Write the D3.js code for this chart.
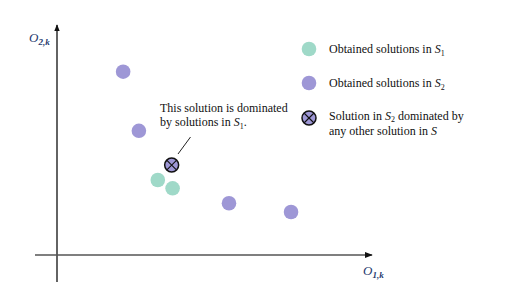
<!DOCTYPE html>
<html>
<head>
<meta charset="utf-8">
<script src="https://cdn.jsdelivr.net/npm/d3@7"></script>
<style>
  body { margin: 0; background: #fff; }
  text { font-family: "Liberation Serif", "Times New Roman", serif; fill: #111; }
</style>
</head>
<body>
<div id="container"></div>
<script>
const WIDTH = 514;
const HEIGHT = 305;

// Data (arbitrary objective units)
const s1X = [3.20, 3.67];
const s1Y = [3.26, 2.90];
const s2X = [2.10, 2.60, 5.46, 7.43];
const s2Y = [7.97, 5.40, 2.25, 1.87];
const dominatedX = [3.64];
const dominatedY = [3.91];
const legendLabels = ['Obtained solutions in ', 'Obtained solutions in ', 'Solution in '];

const GREEN = '#9fd9c8';
const PURPLE = '#9e97d6';
const R = 7.3;

const svg = d3.select('#container').append('svg')
    .attr('width', WIDTH)
    .attr('height', HEIGHT);

const x = d3.scaleLinear().domain([0, 10]).range([57, 372]);
const y = d3.scaleLinear().domain([0, 10]).range([255, 25]);

// Arrow marker
svg.append('defs').append('marker')
    .attr('id', 'arrow')
    .attr('viewBox', '0 0 10 10')
    .attr('refX', 9).attr('refY', 5)
    .attr('markerWidth', 5).attr('markerHeight', 5)
    .attr('orient', 'auto')
    .append('path').attr('d', 'M0,1 L10,5 L0,9 Z').attr('fill', '#111');

// Axes
svg.append('line')
    .attr('x1', x(0)).attr('y1', y(0) + 27)
    .attr('x2', x(0)).attr('y2', y(10))
    .attr('stroke', '#222').attr('stroke-width', 1.4)
    .attr('marker-end', 'url(#arrow)');
svg.append('line')
    .attr('x1', x(0) - 22).attr('y1', y(0))
    .attr('x2', x(10)).attr('y2', y(0))
    .attr('stroke', '#555').attr('stroke-width', 1.6)
    .attr('marker-end', 'url(#arrow)');

// Axis labels
function axisLabel(px, py, sub) {
  const t = svg.append('text')
      .attr('x', px).attr('y', py)
      .style('font-style', 'italic').style('font-size', '13px')
      .style('fill', '#1f3a6e');
  t.append('tspan').text('O');
  t.append('tspan').attr('dy', 3).style('font-size', '9px').style('font-weight', 'bold').text(sub);
}
axisLabel(29, 42, '2,k');
axisLabel(363, 275, '1,k');

// Points
svg.selectAll('.s2').data(s2X).join('circle')
    .attr('class', 's2')
    .attr('cx', d => x(d))
    .attr('cy', (d, i) => y(s2Y[i]))
    .attr('r', R).attr('fill', PURPLE);
svg.selectAll('.s1').data(s1X).join('circle')
    .attr('class', 's1')
    .attr('cx', d => x(d))
    .attr('cy', (d, i) => y(s1Y[i]))
    .attr('r', R).attr('fill', GREEN);

function crossed(g, cx, cy, r) {
  g.append('circle').attr('cx', cx).attr('cy', cy).attr('r', r)
      .attr('fill', PURPLE).attr('stroke', '#111').attr('stroke-width', 1.5);
  const k = r * 0.68;
  g.append('path')
      .attr('d', `M${cx - k},${cy - k}L${cx + k},${cy + k}M${cx - k},${cy + k}L${cx + k},${cy - k}`)
      .attr('stroke', '#111').attr('stroke-width', 1.1);
}
dominatedX.forEach((d, i) => crossed(svg, x(d), y(dominatedY[i]), 7));

// Annotation
svg.append('text').attr('x', 160).attr('y', 112).style('font-size', '12px')
    .text('This solution is dominated');
const note = svg.append('text').attr('x', 160).attr('y', 126).style('font-size', '12px');
note.append('tspan').text('by solutions in ');
note.append('tspan').style('font-style', 'italic').text('S');
note.append('tspan').attr('dy', 3).style('font-size', '8px').text('1');
note.append('tspan').attr('dy', -3).text('.');
svg.append('line')
    .attr('x1', 190.5).attr('y1', 137).attr('x2', 178).attr('y2', 154)
    .attr('stroke', '#222').attr('stroke-width', 1);

// Legend
const legendY = [49, 83, 118];
const legendSub = ['1', '2', '2'];
svg.append('circle').attr('cx', 309).attr('cy', legendY[0]).attr('r', R).attr('fill', GREEN);
svg.append('circle').attr('cx', 309).attr('cy', legendY[1]).attr('r', R).attr('fill', PURPLE);
crossed(svg, 309, legendY[2], 7);

legendLabels.forEach((lab, i) => {
  const t = svg.append('text').attr('x', 329).attr('y', legendY[i] + (i === 2 ? 2 : 3.5)).style('font-size', '12px');
  t.append('tspan').text(lab);
  t.append('tspan').style('font-style', 'italic').text('S');
  t.append('tspan').attr('dy', i === 2 ? 2 : 3).style('font-size', '8px').text(legendSub[i]);
  if (i === 2) {
    t.append('tspan').attr('dy', -2).text(' dominated by');
    const t2 = svg.append('text').attr('x', 329).attr('y', legendY[i] + 17).style('font-size', '12px');
    t2.append('tspan').text('any other solution in ');
    t2.append('tspan').style('font-style', 'italic').text('S');
  }
});
</script>
</body>
</html>
